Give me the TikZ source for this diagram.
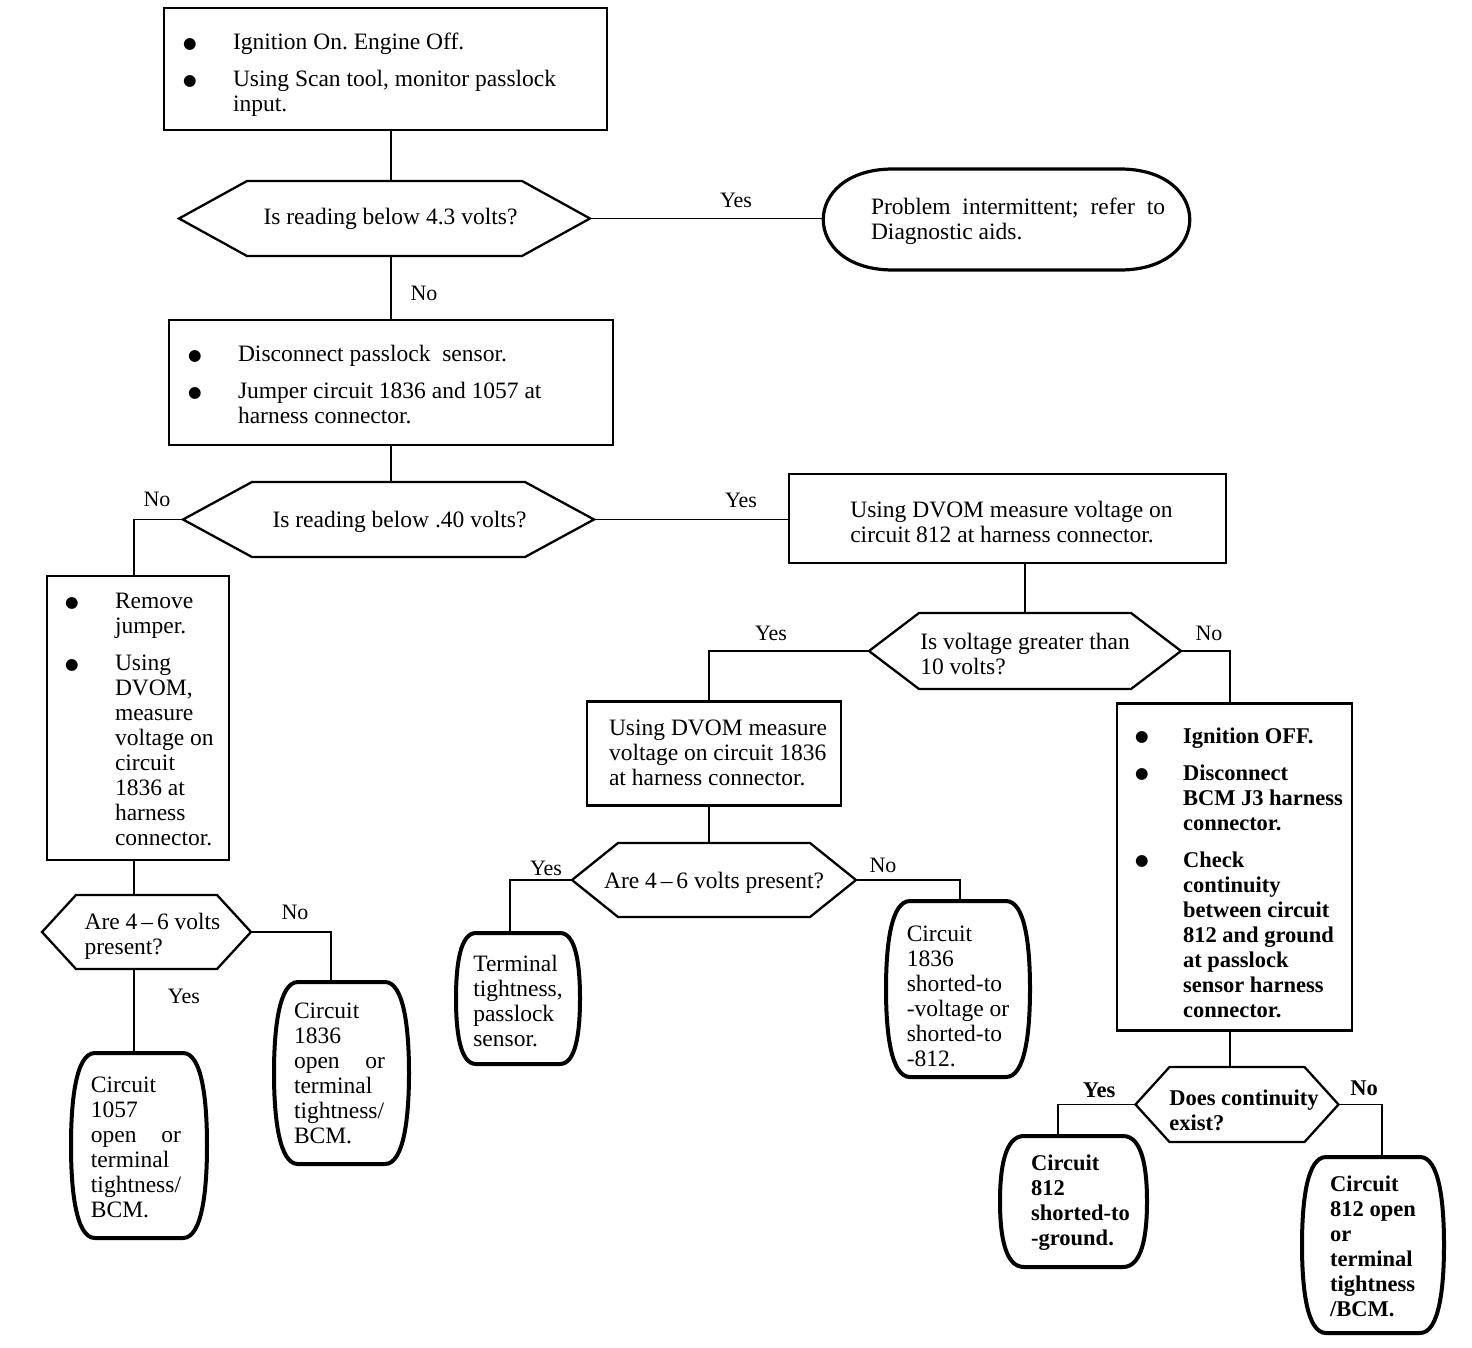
\documentclass[tikz,border=0pt]{standalone}
\usepackage{fontspec}
\setmainfont{Liberation Serif}
\newfontfamily\symfont{DejaVu Sans}
\usetikzlibrary{calc}
\frenchspacing
\newsavebox\shbox
% shift content by (dx right, dy down) without changing its reported size
\newcommand\sh[3]{\sbox\shbox{#3}\makebox[\wd\shbox][l]{\hspace*{#1}\raisebox{-#2}[\ht\shbox][\dp\shbox]{\usebox\shbox}}}
\newcommand\tx[3]{\sh{#1}{#2}{\begin{tabular}{@{}l@{}}#3\end{tabular}}}
\newcommand\bul{\raisebox{1.5pt}{\symfont\fontsize{15.5}{15}\selectfont ●}}
\newcommand\hexa[2]{\draw[hexline] (#1.west) -- ([xshift=#2]#1.north west) -- ([xshift=-#2]#1.north east) -- (#1.east) -- ([xshift=-#2]#1.south east) -- ([xshift=#2]#1.south west) -- cycle;}
% barrel-shaped terminal: #2 corner inset, #3 side control length
\newcommand\barrel[3]{\draw[termline] (#1.north) -- ([xshift=-#2]#1.north east)
  .. controls ([xshift={-0.2*#2}]#1.north east) and ([yshift=-#3]#1.north east) .. (#1.east)
  .. controls ([yshift=#3]#1.south east) and ([xshift={-0.2*#2}]#1.south east) .. ([xshift=-#2]#1.south east)
  -- ([xshift=#2]#1.south west)
  .. controls ([xshift={0.2*#2}]#1.south west) and ([yshift=#3]#1.south west) .. (#1.west)
  .. controls ([yshift=-#3]#1.north west) and ([xshift={0.2*#2}]#1.north west) .. ([xshift=#2]#1.north west)
  -- cycle;}
\tikzset{
  base/.style={font=\fontsize{23.5}{25}\selectfont, inner sep=0pt, outer sep=0pt},
  bold/.style={font=\fontsize{22.5}{25}\selectfont\bfseries},
  box/.style={base, draw, line width=2.8pt},
  hexline/.style={line width=2.3pt, line join=miter},
  termline/.style={line width=4pt},
  conn/.style={line width=1.6pt},
  lab/.style={base, font=\fontsize{22}{25}\selectfont},
}
\begin{document}
\begin{tikzpicture}[x=1pt,y=-1pt]
\path[fill=white] (0,0) rectangle (1472,1348);
\useasboundingbox (0,0) rectangle (1472,1348);

% column coordinates
\coordinate (c1) at (134,0);
\coordinate (c2) at (331,0);
\coordinate (c4) at (709,0);
\coordinate (c5) at (1230,0);
\coordinate (c6) at (510,0);
\coordinate (c7) at (960,0);
\coordinate (c8) at (1058,0);
\coordinate (c9) at (1382,0);

% top
\node[box, minimum width=443, minimum height=122] (A) at (385.5,69)
 {\sh{0pt}{7pt}{\begin{tabular}{@{}p{50pt}@{}p{355pt}@{}}\bul & Ignition On. Engine Off.\\[12pt]
  \bul & Using Scan tool, monitor passlock\\ & input.\end{tabular}}};

\node[base, minimum width=411, minimum height=75] (D1) at (384.5,218.5) {\tx{6pt}{1pt}{Is reading below 4.3 volts?}};
\hexa{D1}{68}

\node[base, minimum width=367, minimum height=101] (E1) at (1006.5,219.5)
 {\tx{11.5pt}{3pt}{\makebox[294pt][s]{Problem intermittent; refer to}\\Diagnostic aids.}};
\draw[termline, line width=3.2pt] ([xshift=70pt]E1.north west) -- ([xshift=-70pt]E1.north east)
  .. controls ([xshift=23pt]E1.north east) and ([xshift=23pt]E1.south east) .. ([xshift=-70pt]E1.south east)
  -- ([xshift=70pt]E1.south west)
  .. controls ([xshift=-23pt]E1.south west) and ([xshift=-23pt]E1.north west) .. ([xshift=70pt]E1.north west) -- cycle;

\node[box, minimum width=444, minimum height=125] (B) at (391,382.5)
 {\sh{0pt}{5pt}{\begin{tabular}{@{}p{50pt}@{}p{356pt}@{}}\bul & Disconnect passlock\ \ sensor.\\[12pt]
  \bul & Jumper circuit 1836 and 1057 at\\ & harness connector.\end{tabular}}};

\node[base, minimum width=411, minimum height=75] (D2) at (388.5,519.5) {\tx{11pt}{3pt}{Is reading below .40 volts?}};
\hexa{D2}{69}

\node[box, minimum width=437, minimum height=89] (C) at (1007.5,518.5)
 {\tx{4pt}{6pt}{Using DVOM measure voltage on\\circuit 812 at harness connector.}};

% left branch
\node[box, minimum width=182, minimum height=284] (D) at (138,718)
 {\sh{2pt}{4pt}{\begin{tabular}{@{}p{50pt}@{}p{100pt}@{}}\bul & Remove\\ & jumper.\\[12pt]
  \bul & Using\\ & DVOM,\\ & measure\\ & voltage on\\ & circuit\\ & 1836 at\\ & harness\\ & \mbox{connector.}\end{tabular}}};

\node[base, minimum width=209, minimum height=74] (D3) at (146.5,932) {\tx{6pt}{5pt}{Are 4\,–\,6 volts\\present?}};
\hexa{D3}{34}

\node[base, minimum width=136, minimum height=185] (T1) at (139,1145.5)
 {\tx{-3pt}{4pt}{Circuit\\1057\\\makebox[90pt][s]{open or}\\terminal\\tightness/\\BCM.}};
\barrel{T1}{24}{48}

\node[base, minimum width=135, minimum height=182] (T2) at (341.5,1073)
 {\tx{-2pt}{3pt}{Circuit\\1836\\\makebox[91pt][s]{open or}\\terminal\\tightness/\\BCM.}};
\barrel{T2}{24}{48}

% middle branch
\node[base, minimum width=312, minimum height=76] (D4) at (1025,651) {\tx{0pt}{6pt}{Is voltage greater than\\10 volts?}};
\hexa{D4}{50}

\node[box, minimum width=254, minimum height=104] (E) at (714,753.5)
 {\tx{4pt}{2pt}{Using DVOM measure\\voltage on circuit 1836\\at harness connector.}};

\node[base, minimum width=284, minimum height=74] (D5) at (714,880) {\tx{0pt}{3pt}{Are 4\,–\,6 volts present?}};
\hexa{D5}{46}

\node[base, minimum width=124, minimum height=131] (T3) at (518,998.5)
 {\tx{0pt}{5pt}{Terminal\\tightness,\\passlock\\sensor.}};
\barrel{T3}{20}{32}

\node[base, minimum width=144, minimum height=176] (T4) at (958,989)
 {\tx{0pt}{10pt}{Circuit\\1836\\shorted-to\\-voltage or\\shorted-to\\-812.}};
\barrel{T4}{24}{45}

% right branch
\node[box, bold, minimum width=235, minimum height=327] (F) at (1234.5,867)
 {\sh{0pt}{8pt}{\begin{tabular}{@{}p{48pt}@{}p{151pt}@{}}\bul & Ignition OFF.\\[12pt]
  \bul & Disconnect\\ & \mbox{BCM J3 harness}\\ & connector.\\[12pt]
  \bul & Check\\ & continuity\\ & \mbox{between circuit}\\ & \mbox{812 and ground}\\ & at passlock\\ & \mbox{sensor harness}\\ & connector.\end{tabular}}};

\node[base, bold, minimum width=203, minimum height=75] (D6) at (1237,1104.5) {\tx{7pt}{8pt}{Does continuity\\exist?}};
\hexa{D6}{34}

\node[base, bold, minimum width=147, minimum height=131] (T5) at (1073.5,1201.5)
 {\tx{7pt}{1pt}{Circuit\\812\\shorted-to\\-ground.}};
\barrel{T5}{24}{32}

\node[base, bold, minimum width=142, minimum height=176] (T6) at (1373,1245)
 {\tx{0pt}{4pt}{Circuit\\812 open\\or\\terminal\\tightness\\/BCM.}};
\barrel{T6}{24}{45}

% connectors
\draw[conn] (A.south -| B.north) -- (D1.north -| B.north);
\draw[conn] (D1.east) -- (D1.east -| E1.west);
\draw[conn] (D1.south -| B.north) -- (B.north);
\draw[conn] (B.south) -- (B.south |- D2.north);
\draw[conn] (D2.east) -- (D2.east -| C.west);
\draw[conn] (D2.west) -| (D.north -| c1);
\draw[conn] (D.south -| c1) -- (D3.north -| c1);
\draw[conn] (D3.south -| c1) -- (T1.north -| c1);
\draw[conn] (D3.east) -| (T2.north -| c2);
\draw[conn] (C.south -| D4.north) -- (D4.north);
\draw[conn] (D4.west) -| (E.north -| c4);
\draw[conn] (D4.east) -| (F.north -| c5);
\draw[conn] (E.south -| c4) -- (D5.north -| c4);
\draw[conn] (D5.west) -| (T3.north -| c6);
\draw[conn] (D5.east) -| (T4.north -| c7);
\draw[conn] (F.south -| c5) -- (D6.north -| c5);
\draw[conn] (D6.west) -| (T5.north -| c8);
\draw[conn] (D6.east) -| (T6.north -| c9);

% labels
\node[lab] (L1) at (736,200) {Yes};
\node[lab] (L2) at (424,293) {No};
\node[lab] (L3) at (741,500) {Yes};
\node[lab] (L4) at (157,499) {No};
\node[lab] (L5) at (184,996) {Yes};
\node[lab] (L6) at (295,912) {No};
\node[lab] (L7) at (771,633) {Yes};
\node[lab] (L8) at (1209,633) {No};
\node[lab] (L9) at (546,868) {Yes};
\node[lab] (L10) at (883,865) {No};
\node[lab,bold] (L11) at (1099,1090) {Yes};
\node[lab,bold] (L12) at (1364,1088) {No};
\end{tikzpicture}
\end{document}
